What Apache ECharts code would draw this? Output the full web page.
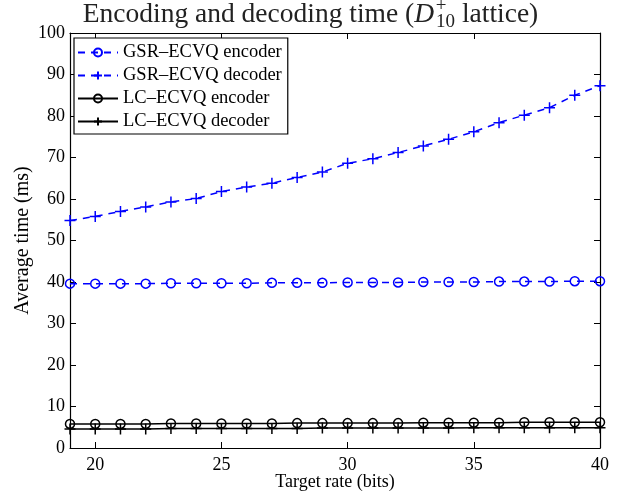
<!DOCTYPE html>
<html>
<head>
<meta charset="utf-8">
<script src="https://cdn.jsdelivr.net/npm/echarts@6/dist/echarts.min.js"></script>
<style>
  html, body { margin: 0; padding: 0; background: #fff; }
  #chart { width: 621px; height: 493px; }
</style>
</head>
<body>
<div id="chart"></div>
<script>
// target rate (bits)
const rates = [19, 20, 21, 22, 23, 24, 25, 26, 27, 28, 29, 30, 31, 32, 33, 34, 35, 36, 37, 38, 39, 40]
// average time (ms)
const gsrEncoder = [39.6, 39.6, 39.6, 39.6, 39.7, 39.7, 39.7, 39.7, 39.8, 39.8, 39.8, 39.9, 39.9, 39.9, 40.0, 40.0, 40.0, 40.1, 40.1, 40.1, 40.2, 40.2]
const gsrDecoder = [54.8, 55.8, 57.0, 58.1, 59.3, 60.1, 61.8, 62.9, 63.8, 65.2, 66.5, 68.6, 69.7, 71.2, 72.8, 74.4, 76.2, 78.4, 80.2, 82.0, 85.0, 87.3]
const lcEncoder = [5.8, 5.8, 5.8, 5.8, 5.9, 5.9, 5.9, 5.9, 5.9, 6.0, 6.0, 6.0, 6.0, 6.0, 6.1, 6.1, 6.1, 6.1, 6.2, 6.2, 6.2, 6.2]
const lcDecoder = [4.6, 4.6, 4.6, 4.6, 4.7, 4.7, 4.7, 4.7, 4.7, 4.7, 4.8, 4.8, 4.8, 4.8, 4.8, 4.8, 4.9, 4.9, 4.9, 4.9, 4.9, 4.9]
const xTicks = [20, 25, 30, 35, 40]

const serif = 'Liberation Serif'
const blue = '#0000ff'
const black = '#000000'
const plus = 'path://M0,-5L0,5M-5,0L5,0'

function pairs (ys) {
  return rates.map((r, i) => [r, ys[i]])
}

function makeSeries (name, ys, color, dashed, symbol, size) {
  return {
    name: name,
    type: 'line',
    data: pairs(ys),
    symbol: symbol,
    symbolSize: size,
    showSymbol: true,
    lineStyle: { color: color, width: 1.5, type: dashed ? [7, 6] : 'solid' },
    itemStyle: { color: 'rgba(0,0,0,0)', borderColor: color, borderWidth: 1.5 },
    emphasis: { disabled: true },
    animation: false
  }
}

const chart = echarts.init(document.getElementById('chart'))
chart.setOption({
  backgroundColor: '#fff',
  title: {
    // superscript drawn with zero width so it sits above the subscript
    text: 'Encoding and decoding time ({it|D}{sup|   +}{sub|10} lattice)',
    left: 'center',
    top: -3,
    padding: 0,
    textStyle: {
      fontFamily: serif,
      fontSize: 27.5,
      fontWeight: 'normal',
      color: '#222',
      lineHeight: 35,
      rich: {
        it: { fontFamily: serif, fontSize: 27.5, fontStyle: 'italic', color: '#222' },
        sup: { fontFamily: serif, fontSize: 19, color: '#222', verticalAlign: 'top', width: 0.01, align: 'left' },
        sub: { fontFamily: serif, fontSize: 19, color: '#222', verticalAlign: 'bottom', padding: [0, 0, 0, 2] }
      }
    }
  },
  legend: {
    orient: 'vertical',
    left: 74,
    top: 38,
    padding: [5, 6, 3, 3],
    itemGap: 4,
    itemWidth: 40,
    itemHeight: 10,
    backgroundColor: '#fff',
    borderColor: black,
    borderWidth: 1.2,
    textStyle: { fontFamily: serif, fontSize: 18.5, color: black },
    data: ['GSR\u2013ECVQ encoder', 'GSR\u2013ECVQ decoder', 'LC\u2013ECVQ encoder', 'LC\u2013ECVQ decoder']
  },
  grid: { left: 70, right: 21, top: 33, bottom: 45, containLabel: false, outerBoundsMode: 'none' },
  xAxis: [{
    type: 'value',
    min: 19,
    max: 40,
    name: 'Target rate (bits)',
    nameLocation: 'middle',
    nameGap: 25,
    nameMoveOverlap: false,
    nameTextStyle: { fontFamily: serif, fontSize: 18, color: black },
    axisLine: { show: true, onZero: false, lineStyle: { color: black, width: 1.2 } },
    axisTick: { show: true, inside: true, length: 6, customValues: xTicks, lineStyle: { color: black } },
    axisLabel: { customValues: xTicks, fontFamily: serif, fontSize: 18, color: black, margin: 8 },
    splitLine: { show: false }
  }, {
    type: 'value',
    position: 'top',
    min: 19,
    max: 40,
    axisLine: { show: true, onZero: false, lineStyle: { color: black, width: 1.2 } },
    axisTick: { show: true, inside: true, length: 6, customValues: xTicks, lineStyle: { color: black } },
    axisLabel: { show: false },
    splitLine: { show: false }
  }],
  yAxis: [{
    type: 'value',
    min: 0,
    max: 100,
    interval: 10,
    name: 'Average time (ms)',
    nameLocation: 'middle',
    nameGap: 37,
    nameMoveOverlap: false,
    nameTextStyle: { fontFamily: serif, fontSize: 20, color: black },
    axisLine: { show: true, onZero: false, lineStyle: { color: black, width: 1.2 } },
    axisTick: { show: true, inside: true, length: 6, lineStyle: { color: black } },
    axisLabel: { fontFamily: serif, fontSize: 18, color: black, margin: 5 },
    splitLine: { show: false }
  }, {
    type: 'value',
    position: 'right',
    min: 0,
    max: 100,
    interval: 10,
    axisLine: { show: true, onZero: false, lineStyle: { color: black, width: 1.2 } },
    axisTick: { show: true, inside: true, length: 6, lineStyle: { color: black } },
    axisLabel: { show: false },
    splitLine: { show: false }
  }],
  series: [
    makeSeries('GSR\u2013ECVQ encoder', gsrEncoder, blue, true, 'circle', 9),
    makeSeries('GSR\u2013ECVQ decoder', gsrDecoder, blue, true, plus, 11),
    makeSeries('LC\u2013ECVQ encoder', lcEncoder, black, false, 'circle', 9),
    makeSeries('LC\u2013ECVQ decoder', lcDecoder, black, false, plus, 11)
  ]
})
</script>
</body>
</html>
